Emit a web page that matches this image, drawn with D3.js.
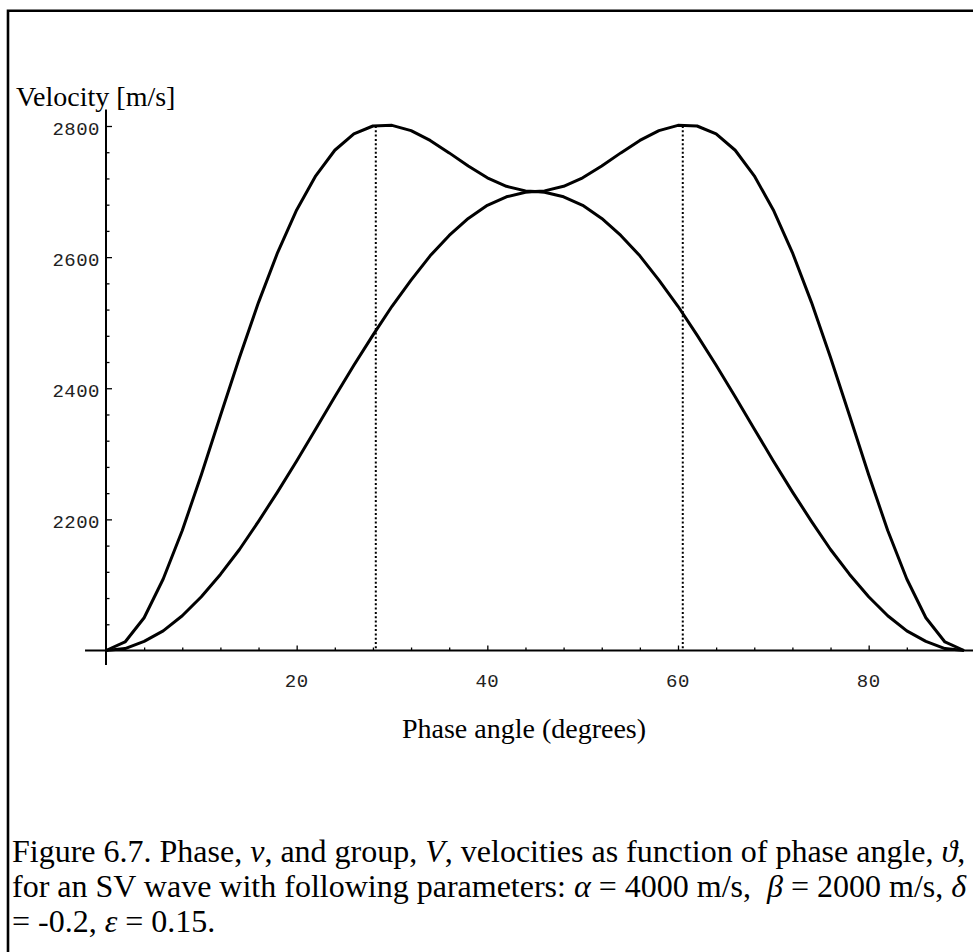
<!DOCTYPE html>
<html><head><meta charset="utf-8">
<script src="https://cdn.jsdelivr.net/npm/d3@7"></script>
<style>body{margin:0;background:#fff}svg{display:block}</style>
</head><body>
<script>
// Phase angle (degrees)
const angles = [0,2,4,6,8,10,12,14,16,18,20,22,24,26,28,30,32,34,36,38,40,42,44,45,
                46,48,50,52,54,56,58,60,62,64,66,68,70,72,74,76,78,80,82,84,86,88,90];
// Phase velocity v [m/s]
const phaseVelocity = [2000,2003,2014,2030,2053,2082,2116,2154,2197,2242,2289,2338,2387,2435,2481,2525,2565,2602,2633,2659,2679,2692,2699,2700,
                       2699,2692,2679,2659,2633,2602,2565,2525,2481,2435,2387,2338,2289,2242,2197,2154,2116,2082,2053,2030,2014,2003,2000];
// Group velocity V [m/s]
const groupVelocity = [2000,2013,2050,2109,2183,2268,2358,2447,2531,2607,2672,2724,2763,2788,2800,2801,2793,2778,2759,2739,2721,2708,2701,2700,
                       2701,2708,2721,2739,2759,2778,2793,2801,2800,2788,2763,2724,2672,2607,2531,2447,2358,2268,2183,2109,2050,2013,2000];
// Dotted markers at the group-velocity maxima
const peakAngles = [28.3, 60.5];
const peakVelocity = 2800;
// Ticks
const xMajorTicks = [20, 40, 60, 80];
const xMinorTicks = [4,8,12,16,24,28,32,36,44,48,52,56,64,68,72,76,84,88];
const yMajorTicks = [2200, 2400, 2600, 2800];
const yMinorTicks = [2040,2080,2120,2160,2240,2280,2320,2360,2440,2480,2520,2560,2640,2680,2720,2760];
const xAxisExtent = [-2.2, 91.5];
const yAxisExtent = [1978, 2825];
const yAxisTitle = "Velocity [m/s]";
const xAxisTitle = "Phase angle (degrees)";

const W = 973, H = 952;
const svg = d3.select("body").append("svg").attr("width", W).attr("height", H);

const x = d3.scaleLinear().domain([0, 90]).range([106, 964]);
const y = d3.scaleLinear().domain([2000, 2800]).range([650.5, 126]);

// frame (top and left only)
svg.append("path").attr("d", `M8,${H} L8,10.7 L${W},10.7`)
  .attr("fill", "none").attr("stroke", "#000").attr("stroke-width", 2.6);

// axes lines
svg.append("line").attr("x1", x(xAxisExtent[0])).attr("x2", W)
  .attr("y1", y(2000)).attr("y2", y(2000)).attr("stroke", "#000").attr("stroke-width", 2);
svg.append("line").attr("x1", x(0)).attr("x2", x(0))
  .attr("y1", y(yAxisExtent[0])).attr("y2", y(yAxisExtent[1])).attr("stroke", "#000").attr("stroke-width", 2);

// x ticks (pointing up)
const gx = svg.append("g").attr("transform", `translate(0,${y(2000)})`);
gx.call(d3.axisTop(x).tickValues(xMajorTicks).tickSize(5).tickFormat(""));
gx.append("g").call(d3.axisTop(x).tickValues(xMinorTicks).tickSize(3).tickFormat(""));
gx.selectAll(".domain").remove();
gx.selectAll(".tick line").attr("stroke", "#000").attr("stroke-width", 1.3);

// y ticks (pointing right)
const gy = svg.append("g").attr("transform", `translate(${x(0)},0)`);
gy.call(d3.axisRight(y).tickValues(yMajorTicks).tickSize(6).tickFormat(""));
gy.append("g").call(d3.axisRight(y).tickValues(yMinorTicks).tickSize(3.5).tickFormat(""));
gy.selectAll(".domain").remove();
gy.selectAll(".tick line").attr("stroke", "#000").attr("stroke-width", 1.3);

// tick labels
const monoFont = "'Liberation Mono', 'DejaVu Sans Mono', monospace";
svg.append("g").selectAll("text").data(xMajorTicks).join("text")
  .attr("x", d => x(d)).attr("y", 687)
  .attr("text-anchor", "middle").attr("font-family", monoFont).attr("font-size", 19)
  .attr("letter-spacing", 0.5).attr("fill", "#222").text(d => d);
svg.append("g").selectAll("text").data(yMajorTicks).join("text")
  .attr("x", 100).attr("y", d => y(d) + 9)
  .attr("text-anchor", "end").attr("font-family", monoFont).attr("font-size", 19)
  .attr("letter-spacing", 0.5).attr("fill", "#222").text(d => d);

// dotted markers
svg.append("g").selectAll("line").data(peakAngles).join("line")
  .attr("x1", d => x(d)).attr("x2", d => x(d))
  .attr("y1", y(peakVelocity)).attr("y2", y(2000))
  .attr("stroke", "#000").attr("stroke-width", 2).attr("stroke-dasharray", "2,2.3");

// curves
const line = d3.line().x(d => x(d[0])).y(d => y(d[1]));
[phaseVelocity, groupVelocity].forEach(series => {
  svg.append("path").datum(angles.map((a, i) => [a, series[i]]))
    .attr("d", line).attr("fill", "none").attr("stroke", "#000")
    .attr("stroke-width", 3).attr("stroke-linejoin", "round");
});

// titles
const serif = "'Liberation Serif', 'Times New Roman', serif";
svg.append("text").attr("x", 16).attr("y", 106).attr("font-family", serif)
  .attr("font-size", 28).text(yAxisTitle);
svg.append("text").attr("x", 524).attr("y", 738).attr("text-anchor", "middle")
  .attr("font-family", serif).attr("font-size", 28).text(xAxisTitle);

// caption
const cap = svg.append("g").attr("font-family", serif).attr("font-size", 32);
const lines = [
  [["Figure 6.7. Phase, ", 0], ["v", 1], [", and group, ", 0], ["V", 1], [", velocities as function of phase angle, ", 0], ["\u03D1", 1], [",", 0]],
  [["for an SV wave with following parameters: ", 0], ["\u03B1", 1], [" = 4000 m/s,  ", 0], ["\u03B2", 1], [" = 2000 m/s, ", 0], ["\u03B4", 1]],
  [["= -0.2, ", 0], ["\u03B5", 1], [" = 0.15.", 0]]
];
lines.forEach((parts, i) => {
  const t = cap.append("text").attr("x", 12).attr("y", 862 + i * 35).attr("xml:space", "preserve")
    .style("white-space", "pre");
  parts.forEach(([s, it]) => {
    t.append("tspan").attr("font-style", it ? "italic" : "normal").text(s);
  });
});
</script>
</body></html>
